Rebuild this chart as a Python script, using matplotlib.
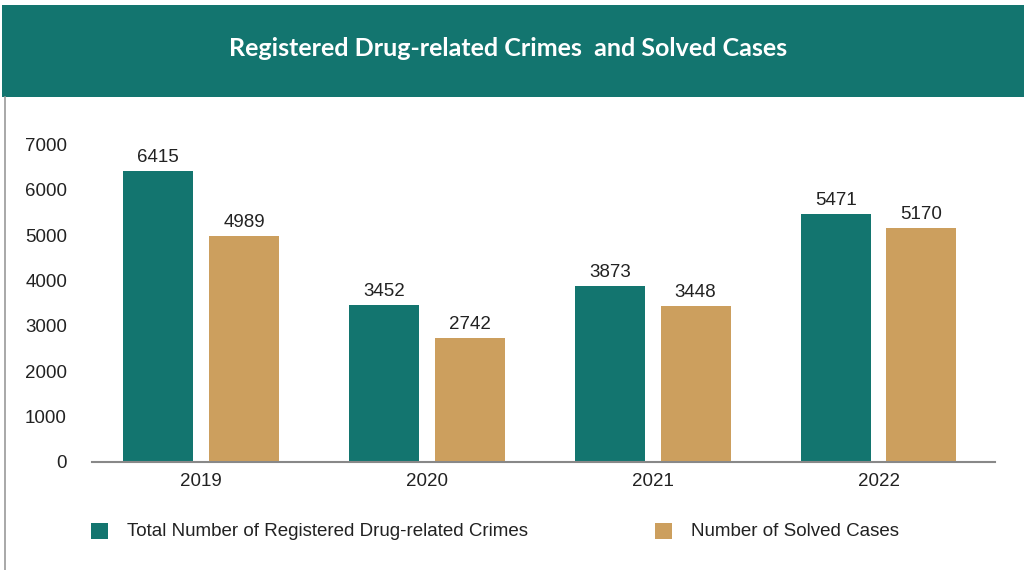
import matplotlib.pyplot as plt
from matplotlib.patches import Rectangle
import numpy as np

years = ['2019', '2020', '2021', '2022']
registered = [6415, 3452, 3873, 5471]
solved = [4989, 2742, 3448, 5170]
yticks = [0, 1000, 2000, 3000, 4000, 5000, 6000, 7000]

teal = '#13756F'
tan = '#CC9F5E'
fs = 13.5

plt.rcParams['font.family'] = ['Liberation Sans', 'DejaVu Sans']

W, H = 1024, 570
fig = plt.figure(figsize=(W / 100, H / 100), dpi=100)

# header band
fig.add_artist(Rectangle((2 / W, 1 - 97 / H), 1, 92 / H, transform=fig.transFigure,
                         facecolor=teal, edgecolor='none'))
fig.add_artist(plt.Line2D([4.5 / W, 4.5 / W], [0, 1 - 97 / H], transform=fig.transFigure,
                          color='#999999', lw=1.2))
fig.text(508 / W, 1 - 49 / H, 'Registered Drug-related Crimes  and Solved Cases',
         ha='center', va='center', color='white', fontsize=18, fontweight='bold',
         family=['Lato', 'DejaVu Sans'])

ax = fig.add_axes([92 / W, (H - 462) / H, (995 - 92) / W, (462 - 137) / H])
x = np.arange(len(years))
bw = 0.31
off = 0.19
ax.bar(x - off, registered, bw, color=teal)
ax.bar(x + off, solved, bw, color=tan)

for xi, v in zip(x, registered):
    ax.text(xi - off, v + 110, str(v), ha='center', va='bottom', fontsize=fs, color='#222222')
for xi, v in zip(x, solved):
    ax.text(xi + off, v + 110, str(v), ha='center', va='bottom', fontsize=fs, color='#222222')

ax.set_xlim(-0.484, 3.516)
ax.set_ylim(0, (462 - 137) / 0.04535)
ax.set_yticks(yticks)
ax.set_yticklabels([str(t) for t in yticks])
ax.set_xticks(x)
ax.set_xticklabels(years)
ax.tick_params(axis='both', length=0, labelsize=fs, labelcolor='#222222')
ax.tick_params(axis='y', pad=18)
ax.tick_params(axis='x', pad=8)
for s in ['top', 'right', 'left']:
    ax.spines[s].set_visible(False)
ax.spines['bottom'].set_color('#888888')
ax.spines['bottom'].set_linewidth(1.5)

# legend
fig.add_artist(Rectangle((91 / W, 1 - 539 / H), 17 / W, 16 / H, transform=fig.transFigure,
                         facecolor=teal, edgecolor='none'))
fig.text(127 / W, 1 - 531 / H, 'Total Number of Registered Drug-related Crimes',
         ha='left', va='center', fontsize=fs, color='#222222')
fig.add_artist(Rectangle((655 / W, 1 - 539 / H), 17 / W, 16 / H, transform=fig.transFigure,
                         facecolor=tan, edgecolor='none'))
fig.text(691 / W, 1 - 531 / H, 'Number of Solved Cases',
         ha='left', va='center', fontsize=fs, color='#222222')

fig.savefig('out.png', dpi=100)
